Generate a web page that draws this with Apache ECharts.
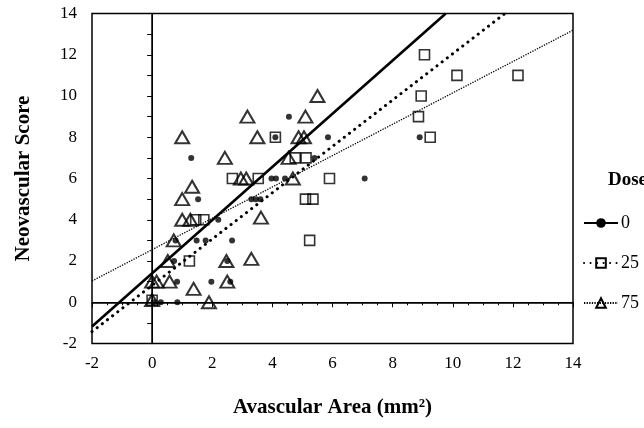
<!DOCTYPE html>
<html><head><meta charset="utf-8">
<script src="https://cdn.jsdelivr.net/npm/echarts@6/dist/echarts.min.js"></script>
<style>html,body{margin:0;padding:0;background:#fff}#c{width:644px;height:428px}</style>
</head><body><div id="c"></div>
<script>
const doseNames = ['0', '25', '75'];
const dose0 = [[1.3,7],[4.55,9],[4.1,8],[5.85,8],[5.4,7],[3.97,6],[4.12,6],[4.42,6],[7.07,6],[1.53,5],[3.3,5],[3.45,5],[3.6,5],[2.2,4],[1.48,3],[1.78,3],[2.66,3],[0.78,3],[0.73,2],[2.5,2],[0.83,1],[1.97,1],[2.6,1],[0.05,0],[0.29,0],[0.84,0],[8.9,8]];
const dose25 = [[9.06,12],[10.14,11],[12.17,11],[8.95,10],[8.86,9],[9.25,8],[4.1,8],[4.76,7],[5.12,7],[2.67,6],[3.53,6],[5.9,6],[5.1,5],[5.35,5],[1.45,4],[1.72,4],[5.24,3],[1.24,2],[0,0.1]];
const dose75 = [[1.0,8],[3.17,9],[5.5,10],[5.1,9],[3.5,8],[4.87,8],[5.05,8],[2.42,7],[4.54,7],[2.95,6],[3.13,6],[4.68,6],[1.0,5],[1.33,5.6],[1.0,4],[1.27,4],[3.62,4.1],[0.72,3],[0.52,2],[2.47,2],[3.3,2.1],[0,1],[0.15,1],[0.58,1],[2.5,1],[1.38,0.65],[0,0.1],[1.89,0]];
const fitIntercepts = [1.4, 0.82, 2.55];
const fitSlopes = [1.29, 1.123, 0.76];
const axisMin = -2, axisMax = 14;

function fitLine(a, b) {
  let x0 = axisMin, y0 = a + b * x0;
  if (y0 < axisMin) { x0 = (axisMin - a) / b; y0 = axisMin; }
  let x1 = axisMax, y1 = a + b * x1;
  if (y1 > axisMax) { x1 = (axisMax - a) / b; y1 = axisMax; }
  return [[x0, y0], [x1, y1]];
}

const serif = 'Liberation Serif, Times New Roman, serif';
const lineStyles = [
  {color:'#000', width:2.6, type:'solid'},
  {color:'#000', width:3, type:[0.1,6.4], cap:'round'},
  {color:'#000', width:1.3, type:[1.3,1.3]}
];
const symbols = ['circle','rect','triangle'];
const symSizes = [6, 10, [14,12]];
const itemStyles = [
  {color:'#000'},
  {color:'rgba(255,255,255,0)', borderColor:'#000', borderWidth:1.6},
  {color:'rgba(255,255,255,0)', borderColor:'#000', borderWidth:2}
];
const scatterData = [dose0, dose25, dose75];

const series = [];
doseNames.forEach((n, i) => {
  series.push({
    name: n, type: 'line', data: fitLine(fitIntercepts[i], fitSlopes[i]),
    showSymbol: false, symbol: symbols[i], symbolSize: symSizes[i],
    lineStyle: lineStyles[i], itemStyle: itemStyles[i], silent: true, z: 3,
    animation: false
  });
});
doseNames.forEach((n, i) => {
  series.push({
    name: n, type: 'scatter', data: scatterData[i], symbol: symbols[i],
    symbolSize: symSizes[i], itemStyle: itemStyles[i], z: 4, animation: false
  });
});
series[3].markLine = {
  silent: true, symbol: 'none', animation: false, label: {show: false},
  lineStyle: {color: '#000', width: 1, type: 'solid'},
  data: [{xAxis: 0}, {yAxis: 0}]
};

const chart = echarts.init(document.getElementById('c'));
chart.setOption({
  animation: false,
  grid: {left: 92, right: 71, top: 13.5, bottom: 84.5, show: true, borderColor: '#000', borderWidth: 1.5},
  xAxis: {
    type: 'value', min: axisMin, max: axisMax, interval: 2,
    name: 'Avascular Area (mm²)', nameLocation: 'middle', nameGap: 54,
    nameTextStyle: {fontFamily: serif, fontWeight: 'bold', fontSize: 21, color: '#000'},
    axisLine: {lineStyle: {color: '#000', width: 1.5}},
    axisTick: {length: 5, lineStyle: {color: '#000'}},
    minorTick: {show: true, splitNumber: 4, length: 3, lineStyle: {color: '#000'}},
    splitLine: {show: false},
    axisLabel: {fontFamily: serif, fontSize: 17, color: '#000', margin: 12}
  },
  yAxis: {
    type: 'value', min: axisMin, max: axisMax, interval: 2,
    name: 'Neovascular Score', nameLocation: 'middle', nameGap: 58, nameRotate: 90,
    nameTextStyle: {fontFamily: serif, fontWeight: 'bold', fontSize: 21, color: '#000'},
    axisLine: {lineStyle: {color: '#000', width: 1.5}},
    axisTick: {length: 5, lineStyle: {color: '#000'}},
    minorTick: {show: true, splitNumber: 2, length: 5, lineStyle: {color: '#000'}},
    splitLine: {show: false},
    axisLabel: {fontFamily: serif, fontSize: 17, color: '#000', margin: 15}
  },
  legend: {
    data: doseNames, orient: 'vertical', left: 578, top: 209, itemGap: 22,
    itemWidth: 34, itemHeight: 12, selectedMode: false,
    textStyle: {fontFamily: serif, fontSize: 18, color: '#000', padding: [0,0,0,-2]}
  },
  graphic: [{
    type: 'text', left: 608, top: 171,
    style: {text: 'Dose', fontFamily: serif, fontWeight: 'bold', fontSize: 19, fill: '#000'}
  }],
  series: series
});
</script></body></html>
